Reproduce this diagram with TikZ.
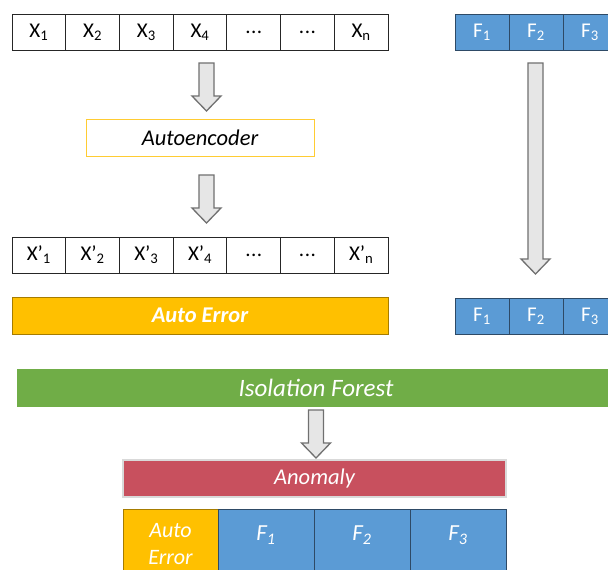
\documentclass[tikz,border=0pt]{standalone}
\usepackage{fontspec}
\setmainfont{Carlito}
\definecolor{xborder}{HTML}{262626}
\definecolor{fblue}{HTML}{5B9BD5}
\definecolor{fborder}{HTML}{2E4A66}
\definecolor{gold}{HTML}{FFC000}
\definecolor{goldborder}{HTML}{A67C00}
\definecolor{aeborder}{HTML}{FFCC33}
\definecolor{forest}{HTML}{70AD47}
\definecolor{anomred}{HTML}{C8505E}
\definecolor{anomborder}{HTML}{D9D9D9}
\definecolor{arrowfill}{HTML}{E6E6E6}
\definecolor{arrowdraw}{HTML}{707070}
\tikzset{
  box/.style={inner sep=0pt, outer sep=0pt, anchor=north west},
  xcell/.style={box, draw=xborder, line width=0.9pt, minimum width=53.714pt,
    minimum height=36pt, font=\fontsize{21}{23}\selectfont},
  fcell/.style={box, draw=fborder, line width=0.9pt, fill=fblue, text=white,
    minimum width=54pt, minimum height=36pt, font=\fontsize{21}{23}\selectfont},
  arrowline/.style={draw=arrowdraw, fill=arrowfill, line width=1.3pt, line join=miter},
  pics/downarrow/.style={code={
    \path[arrowline] (-7.5,0) -- (7.5,0) -- (7.5,#1-15) -- (14.5,#1-15)
      -- (0,#1) -- (-14.5,#1-15) -- (-7.5,#1-15) -- cycle;}}
}
\newcommand{\sub}[1]{\textsubscript{#1}}
\newcommand{\ldotsbase}{.\kern0.5pt.\kern0.5pt.}
\newcommand{\low}[1]{\raisebox{-2pt}{#1}}
\begin{document}
\begin{tikzpicture}[x=1pt,y=-1pt]
\clip (0,0) rectangle (608,570);
\fill[white] (0,0) rectangle (608,570);

% input vector
\foreach \lab [count=\i from 0] in {X\sub{1},X\sub{2},X\sub{3},X\sub{4},\ldotsbase,\ldotsbase,X\sub{n}}
  \node[xcell] (x\i) at (12+53.714*\i,14) {\low{\lab}};

% reconstructed vector
\foreach \lab [count=\i from 0] in {X’\sub{1},X’\sub{2},X’\sub{3},X’\sub{4},\ldotsbase,\ldotsbase,X’\sub{n}}
  \node[xcell] (r\i) at (12+53.714*\i,237) {\low{\lab}};

% extra features, top and bottom
\foreach \i in {1,2,3} {
  \node[fcell] (ft\i) at (455+54*\i-54,14) {\low{F\sub{\i}}};
  \node[fcell] (fb\i) at (455+54*\i-54,298) {\low{F\sub{\i}}};
}

% autoencoder
\node[box, draw=aeborder, line width=1pt, minimum width=228pt, minimum height=37pt,
  font=\fontsize{22.5}{24}\selectfont\itshape] (ae) at (86,119) {Autoencoder};

% reconstruction error
\node[box, draw=goldborder, line width=0.9pt, fill=gold, text=white,
  minimum width=376pt, minimum height=37pt,
  font=\fontsize{22.5}{24}\selectfont\bfseries\itshape] (err) at (12,297) {Auto Error};

% isolation forest
\node[box, fill=forest, text=white, minimum width=598pt, minimum height=38pt,
  font=\fontsize{25}{27}\selectfont\itshape] (iso) at (17,369) {Isolation Forest};

% anomaly
\node[box, draw=anomborder, line width=2pt, fill=anomred, text=white,
  minimum width=383pt, minimum height=37pt,
  font=\fontsize{22.5}{24}\selectfont\itshape] (anom) at (123,460) {Anomaly};

% combined output row
\node[box, draw=goldborder, line width=0.9pt, fill=gold, text=white,
  minimum width=95pt, minimum height=70pt, align=center,
  font=\fontsize{22}{27}\selectfont\itshape] (oe) at (123,509) {Auto\\Error};
\foreach \i in {1,2,3}
  \node[box, draw=fborder, line width=0.9pt, fill=fblue, text=white,
    minimum width=96pt, minimum height=70pt, text depth=0pt,
    font=\fontsize{23}{25}\selectfont\itshape] (of\i) at (218+96*\i-96,509)
    {\raisebox{21pt}{F\sub{\i}}};

% block arrows
\pic at (206.5,63) {downarrow=48};
\pic at (206.5,175) {downarrow=48};
\pic at (535.5,63) {downarrow=211};
\pic at (316,410) {downarrow=48};
\end{tikzpicture}
\end{document}
